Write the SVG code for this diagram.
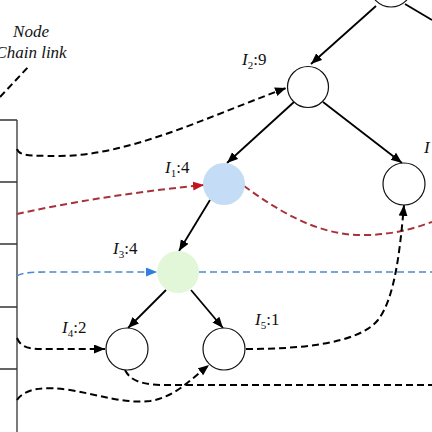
<svg xmlns="http://www.w3.org/2000/svg" width="432" height="432" viewBox="0 0 432 432">
<style>
.lbl{font-family:"Liberation Serif","Times New Roman",serif;font-size:17px;fill:#111}
.it{font-style:italic}
.sub{font-size:11px}
.node{stroke:#111;stroke-width:1.2;fill:#fff}
.solid{stroke:#000;stroke-width:1.8;fill:none}
.dash{stroke:#000;stroke-width:2;fill:none;stroke-dasharray:7 4}
.red{stroke:#a8323a;stroke-width:2;fill:none;stroke-dasharray:7 4}
.blue{stroke:#4f88cf;stroke-width:1.6;fill:none;stroke-dasharray:7 4}
.box{stroke:#333;stroke-width:1.3;fill:none}
</style>
<defs>
<marker id="ab" markerUnits="userSpaceOnUse" markerWidth="12" markerHeight="10" refX="11" refY="4.5" orient="auto"><path d="M0,0 L11,4.5 L0,9 z" fill="#000"/></marker>
<marker id="ar" markerUnits="userSpaceOnUse" markerWidth="12" markerHeight="10" refX="11" refY="4.5" orient="auto"><path d="M0,0 L11,4.5 L0,9 z" fill="#c0141e"/></marker>
<marker id="abl" markerUnits="userSpaceOnUse" markerWidth="12" markerHeight="10" refX="11" refY="4.5" orient="auto"><path d="M0,0 L11,4.5 L0,9 z" fill="#2f7fe0"/></marker>
</defs>

<g id="legend">
<text class="lbl it" x="31" y="37" text-anchor="middle">Node</text>
<text class="lbl it" x="31" y="58" text-anchor="middle">Chain link</text>
<path class="dash" d="M0 97 L30 65"/>
</g>

<g id="chain">
<path class="box" d="M17 120 V432 M0 120 H17 M0 182 H17 M0 244 H17 M0 307 H17 M0 369 H17"/>
</g>

<g id="connectors">
<path class="solid" d="M376 6 L311 64" marker-end="url(#ab)"/>
<path class="solid" d="M405 4 L432 20"/>
<path class="solid" d="M294 102 L227 163" marker-end="url(#ab)"/>
<path class="solid" d="M323 102 L402 163" marker-end="url(#ab)"/>
<path class="solid" d="M210 200 L179 251" marker-end="url(#ab)"/>
<path class="solid" d="M166 290 L128 328" marker-end="url(#ab)"/>
<path class="solid" d="M191 290 L223 328" marker-end="url(#ab)"/>

<path class="dash" d="M17 149 C19 155 25 156 60 156 C130 155 200 120 286 88" marker-end="url(#ab)"/>
<path class="red" d="M17 214 C80 200 150 190 204 185" marker-end="url(#ar)"/>
<path class="red" d="M244 186 C280 212 320 237 368 235 C400 234 420 226 432 222"/>
<path class="blue" d="M17 276 C20 273 30 272 50 272 L157 272" marker-end="url(#abl)"/>
<path class="blue" d="M199 272 L432 272"/>
<path class="dash" d="M17 338 C20 345 25 349 40 349 L105 349" marker-end="url(#ab)"/>
<path class="dash" d="M246 349 C300 349 358 344 378 320 C395 298 400 250 404 205" marker-end="url(#ab)"/>
<path class="dash" d="M125 370 C130 380 140 384 160 385 L432 385"/>
<path class="dash" d="M17 400 C25 388 45 386 70 390 C100 395 125 404 150 401 C175 397 190 380 209 365" marker-end="url(#ab)"/>
</g>

<g id="n_top"><circle class="node" cx="391" cy="-14" r="21"/></g>
<g id="n_I2"><circle class="node" cx="308" cy="87" r="20.5"/>
<text class="lbl" x="242" y="65"><tspan class="it">I</tspan><tspan class="sub" dy="4">2</tspan><tspan dy="-4">:9</tspan></text></g>
<g id="n_I6"><circle class="node" cx="404" cy="184" r="21"/>
<text class="lbl it" x="424" y="153">I</text></g>
<g id="n_I1"><circle cx="224" cy="184" r="21" fill="#c4dcf6"/>
<text class="lbl" x="165" y="173"><tspan class="it">I</tspan><tspan class="sub" dy="4">1</tspan><tspan dy="-4">:4</tspan></text></g>
<g id="n_I3"><circle cx="178" cy="272" r="21" fill="#e2f6d8"/>
<text class="lbl" x="113" y="254"><tspan class="it">I</tspan><tspan class="sub" dy="4">3</tspan><tspan dy="-4">:4</tspan></text></g>
<g id="n_I4"><circle class="node" cx="127" cy="349" r="21"/>
<text class="lbl" x="62" y="333"><tspan class="it">I</tspan><tspan class="sub" dy="4">4</tspan><tspan dy="-4">:2</tspan></text></g>
<g id="n_I5"><circle class="node" cx="224" cy="349" r="21"/>
<text class="lbl" x="255" y="325"><tspan class="it">I</tspan><tspan class="sub" dy="4">5</tspan><tspan dy="-4">:1</tspan></text></g>
</svg>
